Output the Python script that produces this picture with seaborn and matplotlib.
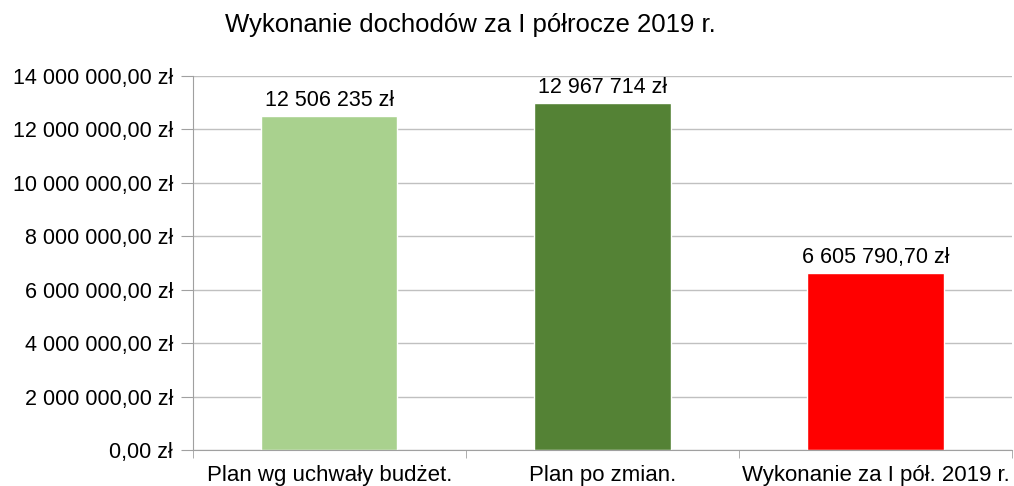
import matplotlib.pyplot as plt
import matplotlib.ticker as mticker
import seaborn as sns
import pandas as pd

categories = ["Plan wg uchwały budżet.", "Plan po zmian.", "Wykonanie za I pół. 2019 r."]
values = [12506235, 12967714, 6605790.70]
bar_labels = ["12 506 235 zł", "12 967 714 zł", "6 605 790,70 zł"]
colors = ["#a9d18e", "#548235", "#ff0000"]

sns.set_style("white")
plt.rcParams['font.family'] = ['Liberation Sans', 'DejaVu Sans']
plt.rcParams['text.color'] = 'black'
plt.rcParams['xtick.color'] = 'black'
plt.rcParams['ytick.color'] = 'black'

df = pd.DataFrame({"kat": categories, "wartosc": values})

fig = plt.figure(figsize=(10.14, 4.86), dpi=100)
ax = fig.add_axes([0.190, 0.074, 0.808, 0.770])

sns.barplot(data=df, x="kat", y="wartosc", hue="kat", palette=colors,
            width=0.5, legend=False, ax=ax, saturation=1)

ax.set_ylim(0, 14000000)
ax.set_xlim(-0.5, 2.5)
ax.yaxis.set_major_locator(mticker.MultipleLocator(2000000))


def fmt(v, pos):
    return "{:,.2f}".format(v).replace(",", " ").replace(".", ",") + " zł"


ax.yaxis.set_major_formatter(mticker.FuncFormatter(fmt))
ax.grid(axis="y", color="#c0c0c0", linewidth=1)
ax.set_axisbelow(True)

for s in ["top", "right"]:
    ax.spines[s].set_visible(False)
ax.spines["left"].set_color("#a0a0a0")
ax.spines["bottom"].set_color("#a0a0a0")

ax.tick_params(axis="y", length=9, color="#a0a0a0", labelcolor="black", labelsize=15.5, pad=5, left=True)
ax.tick_params(axis="x", length=0, labelsize=16, labelcolor="black", pad=11)
ax.set_xticks([0, 1, 2])
ax.set_xticklabels(categories)
ax.set_xticks([-0.5, 0.5, 1.5, 2.5], minor=True)
ax.tick_params(axis="x", which="minor", length=6, color="#a0a0a0", bottom=True)

for i, (v, lab) in enumerate(zip(values, bar_labels)):
    ax.text(i, v + 580000, lab, ha="center", va="center", fontsize=15.5)

ax.set_xlabel("")
ax.set_ylabel("")
fig.text(0.464, 0.949, "Wykonanie dochodów za I półrocze 2019 r.", ha="center", va="center", fontsize=18.5)

fig.savefig("out.png", dpi=100)
